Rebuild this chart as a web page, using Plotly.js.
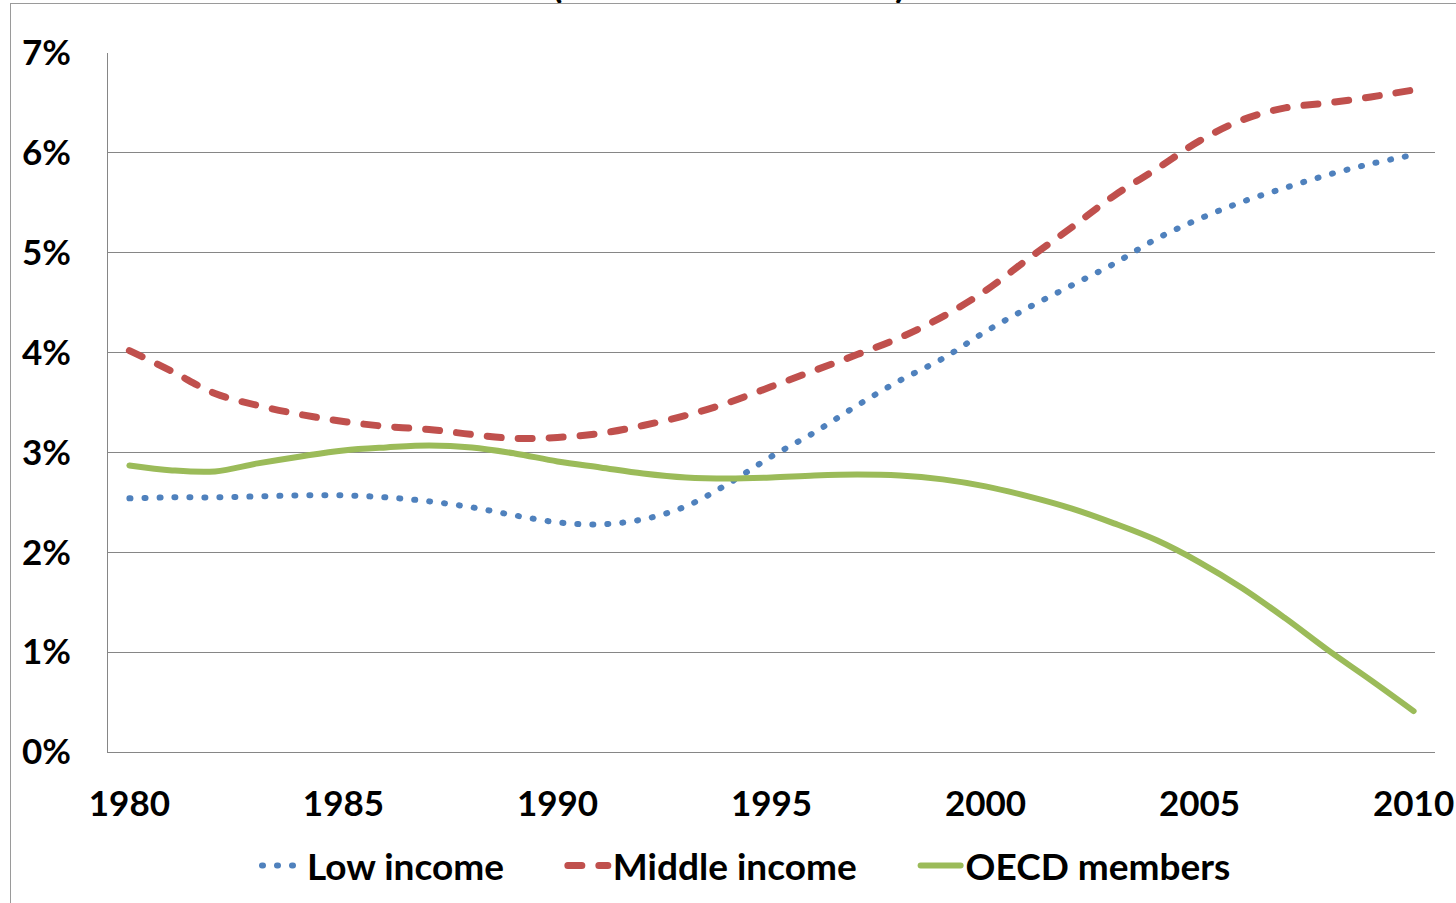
<!DOCTYPE html>
<html>
<head>
<meta charset="utf-8">
<script src="https://cdn.plot.ly/plotly-3.0.1.min.js"></script>
<style>
  html, body { margin: 0; padding: 0; background: #ffffff; }
  #chart { width: 1456px; height: 903px; position: relative; }
  .js-line { stroke-linecap: round !important; stroke-linejoin: round !important; }
  #frame { position: absolute; left: 10px; top: 3px; width: 2000px; height: 2000px;
           border-left: 1.5px solid #9a9a9a; border-top: 1.5px solid #9a9a9a; pointer-events: none; }
</style>
</head>
<body>
<div id="chart"></div>
<div id="frame"></div>
<script>
// Years (category axis)
const years = [1980,1981,1982,1983,1984,1985,1986,1987,1988,1989,
               1990,1991,1992,1993,1994,1995,1996,1997,1998,1999,
               2000,2001,2002,2003,2004,2005,2006,2007,2008,2009,2010];

// Series values (%)
const lowIncome = [2.54,2.55,2.55,2.56,2.57,2.57,2.55,2.51,2.45,2.37,
                   2.30,2.28,2.33,2.46,2.69,2.96,3.20,3.47,3.72,3.94,
                   4.21,4.45,4.67,4.89,5.14,5.34,5.51,5.65,5.78,5.89,5.98];
const middleIncome = [4.02,3.81,3.59,3.47,3.38,3.31,3.26,3.23,3.18,3.14,
                      3.15,3.19,3.27,3.37,3.50,3.66,3.82,3.98,4.15,4.36,
                      4.62,4.94,5.25,5.57,5.84,6.12,6.33,6.45,6.50,6.56,6.63];
const oecdMembers = [2.87,2.82,2.81,2.89,2.96,3.02,3.05,3.07,3.05,2.99,
                     2.91,2.85,2.79,2.75,2.74,2.75,2.77,2.78,2.77,2.73,
                     2.66,2.56,2.44,2.29,2.12,1.90,1.64,1.34,1.02,0.72,0.41];

const seriesNames = ['Low income', 'Middle income', 'OECD members'];
const xTickVals = [1980,1985,1990,1995,2000,2005,2010];
const yTickVals = [0,1,2,3,4,5,6,7];
const yTickText = ['0%','1%','2%','3%','4%','5%','6%','7%'];

const FONT = 'Lato, "Open Sans", sans-serif';
const PAD = '\u00A0'.repeat(6);

const traces = [
  { x: years, y: lowIncome, name: seriesNames[0] + PAD, mode: 'lines',
    line: { color: '#4F81BD', width: 6, dash: '1px,14px', shape: 'spline', smoothing: 1 } },
  { x: years, y: middleIncome, name: seriesNames[1] + PAD, mode: 'lines',
    line: { color: '#C0504D', width: 7, dash: '14px,17px', shape: 'spline', smoothing: 1 } },
  { x: years, y: oecdMembers, name: seriesNames[2], mode: 'lines',
    line: { color: '#9BBB59', width: 6, shape: 'spline', smoothing: 1 } }
];

const layout = {
  width: 1456, height: 903,
  margin: { l: 108, r: 21, t: 53, b: 151 },
  paper_bgcolor: '#ffffff', plot_bgcolor: '#ffffff',
  font: { family: FONT, size: 34, color: '#000000', weight: 700 },
  showlegend: true,
  legend: {
    orientation: 'h', xref: 'paper', x: (257 - 108) / 1327, xanchor: 'left',
    yref: 'container', y: (903 - 866) / 903, yanchor: 'middle',
    font: { family: FONT, size: 37, color: '#000000', weight: 700 },
    itemwidth: 40, traceorder: 'normal'
  },
  xaxis: {
    type: 'linear', range: [1979.5, 2010.5], tickmode: 'array', tickvals: xTickVals,
    showgrid: false, zeroline: false, showline: true, linecolor: '#868686', linewidth: 1,
    ticks: '', ticklabelstandoff: 21, automargin: false,
    tickfont: { family: FONT, size: 35, color: '#000000', weight: 700 }
  },
  yaxis: {
    range: [0, 7], tickmode: 'array', tickvals: yTickVals, ticktext: yTickText,
    showgrid: true, gridcolor: '#868686', gridwidth: 1,
    zeroline: false, showline: true, linecolor: '#868686', linewidth: 1,
    ticks: '', ticklabelstandoff: 29, automargin: false,
    tickfont: { family: FONT, size: 35, color: '#000000', weight: 700 }
  },
  annotations: [
    { text: '(', xref: 'paper', yref: 'paper', x: (557 - 108) / 1327, y: (752 - 8) / 699,
      xanchor: 'center', yanchor: 'bottom', showarrow: false,
      font: { family: FONT, size: 38, color: '#000000', weight: 700 } },
    { text: ')', xref: 'paper', yref: 'paper', x: (900 - 108) / 1327, y: (752 - 8) / 699,
      xanchor: 'center', yanchor: 'bottom', showarrow: false,
      font: { family: FONT, size: 38, color: '#000000', weight: 700 } }
  ]
};

Plotly.newPlot('chart', traces, layout, { displayModeBar: false, staticPlot: true });
</script>
</body>
</html>
